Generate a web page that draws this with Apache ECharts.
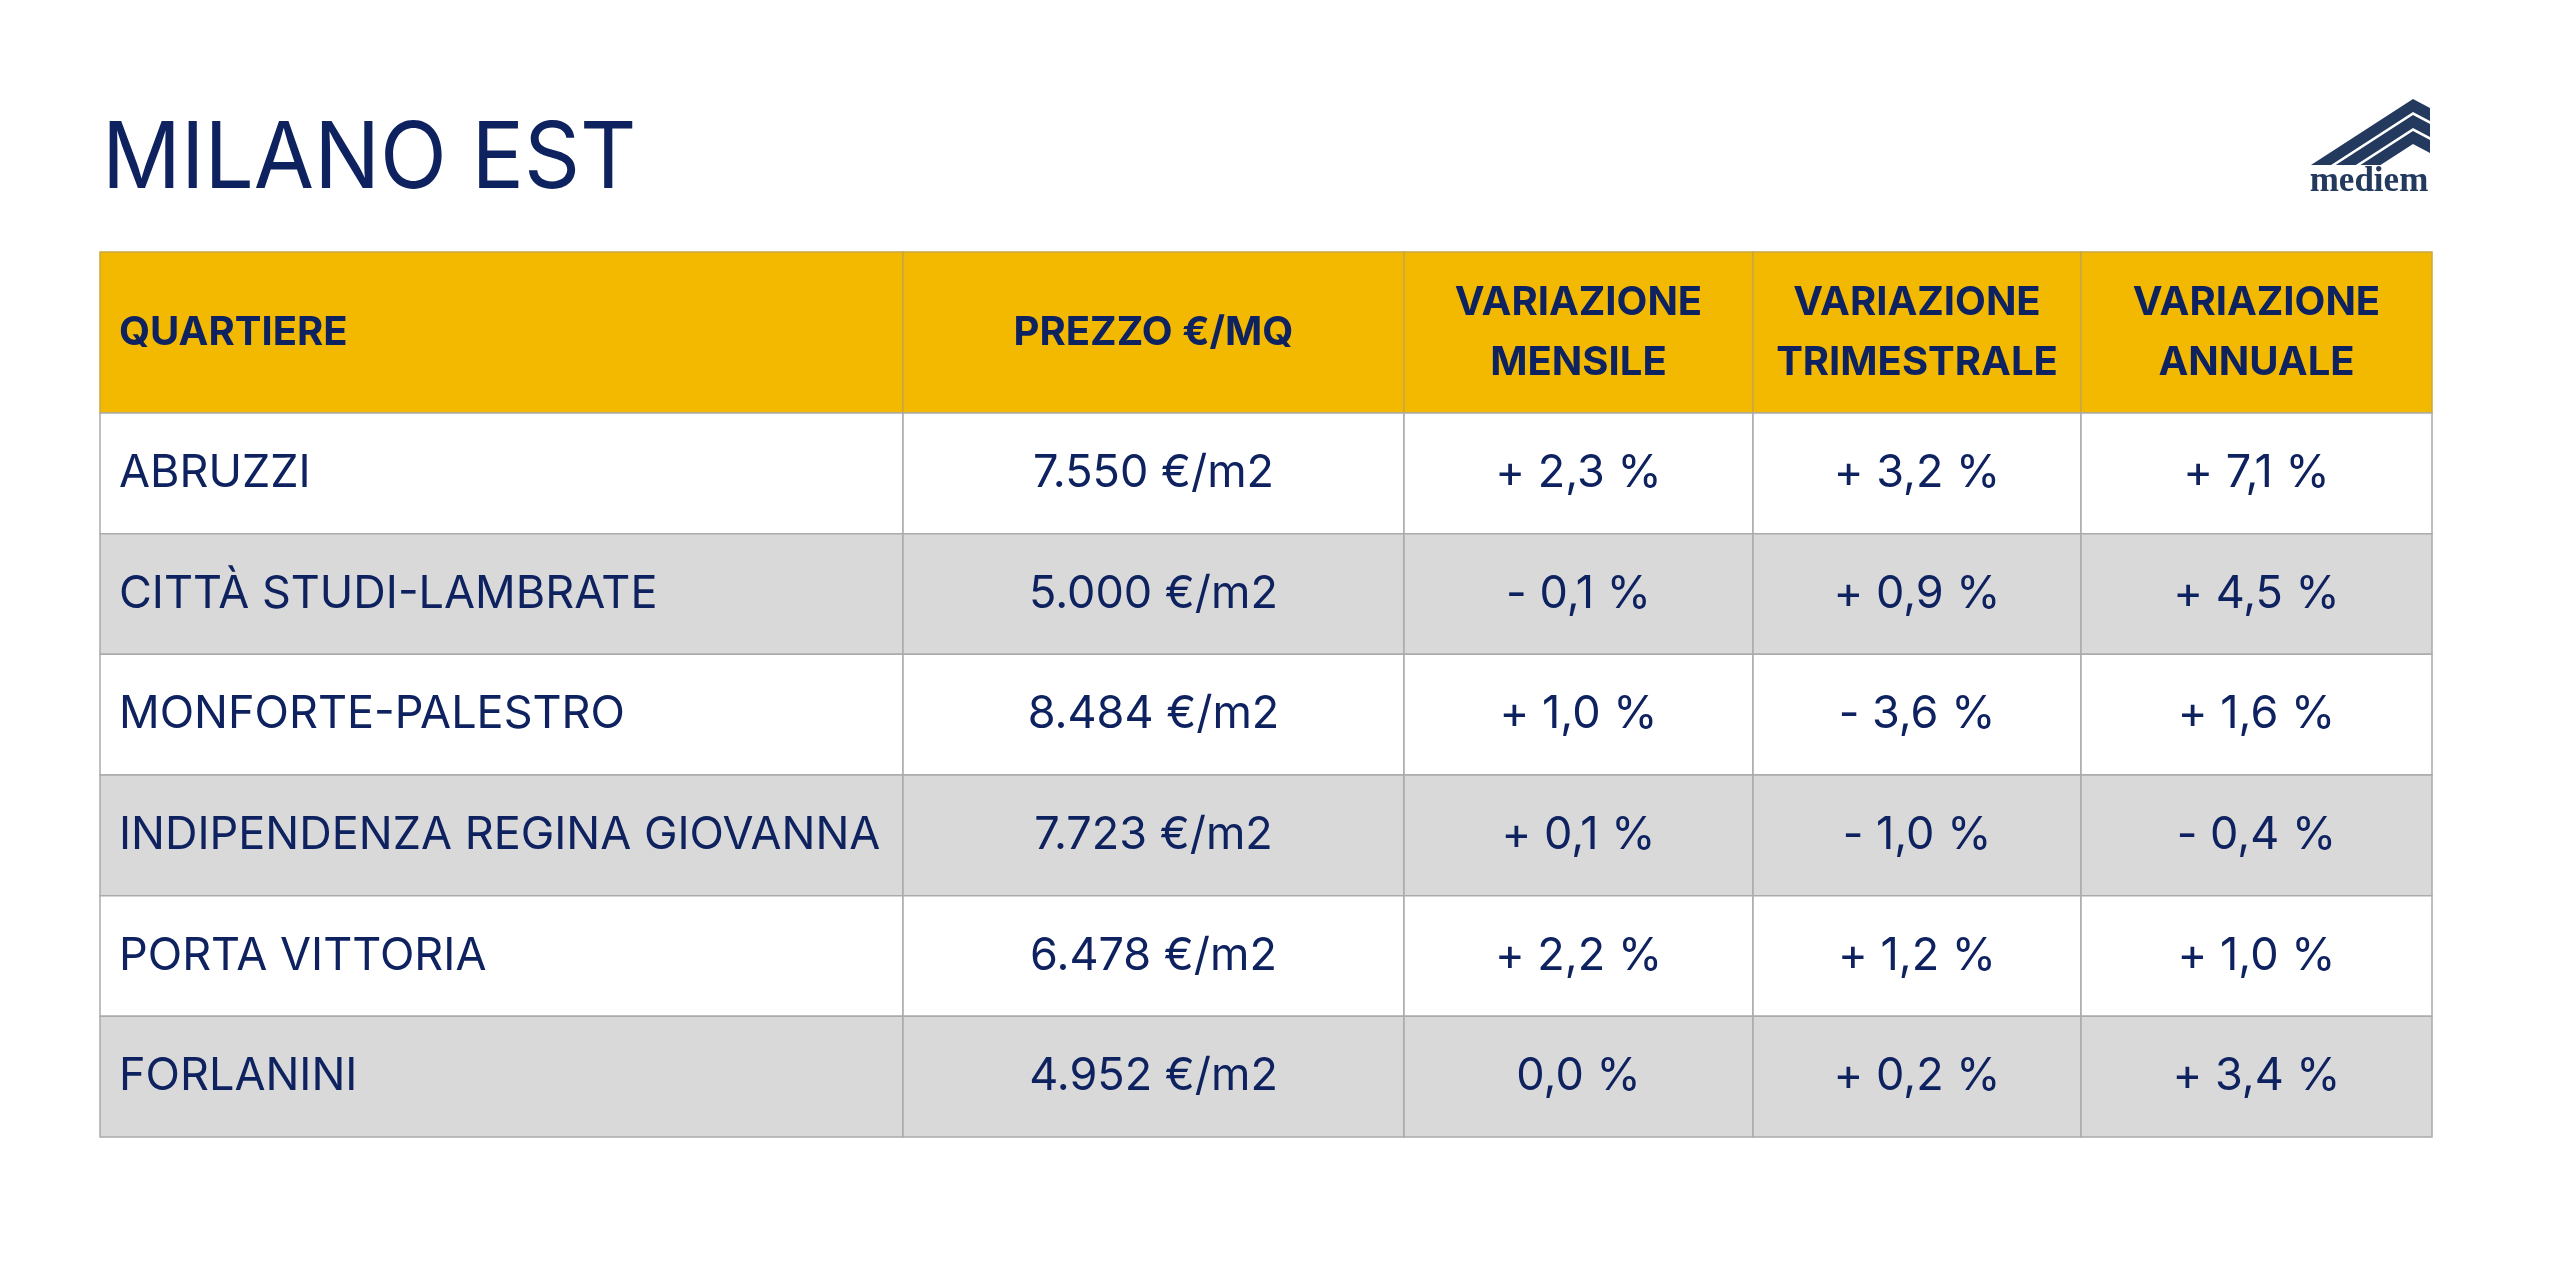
<!DOCTYPE html>
<html>
<head>
<meta charset="utf-8">
<title>Milano Est</title>
<script src="https://cdn.jsdelivr.net/npm/echarts@6/dist/echarts.min.js"></script>
<style>
  html, body { margin: 0; padding: 0; background: #fff; }
  #main { width: 2560px; height: 1280px; }
</style>
</head>
<body>
<div id="main"></div>
<script>
// dati della tabella
const titolo = "MILANO EST";
const intestazioni = ["QUARTIERE", "PREZZO €/MQ", "VARIAZIONE\nMENSILE", "VARIAZIONE\nTRIMESTRALE", "VARIAZIONE\nANNUALE"];
const quartieri = ["ABRUZZI", "CITTÀ STUDI-LAMBRATE", "MONFORTE-PALESTRO", "INDIPENDENZA REGINA GIOVANNA", "PORTA VITTORIA", "FORLANINI"];
const prezzi = [7550, 5000, 8484, 7723, 6478, 4952];
const varMensile = [2.3, -0.1, 1.0, 0.1, 2.2, 0.0];
const varTrimestrale = [3.2, 0.9, -3.6, -1.0, 1.2, 0.2];
const varAnnuale = [7.1, 4.5, 1.6, -0.4, 1.0, 3.4];

// layout: bordi delle colonne in px rispetto al bordo sinistro della tabella
const colEdges = [0, 803, 1304, 1653, 1981, 2332];
const NAVY = "#0f2260";
const FONT = "Inter, 'Noto Sans', sans-serif";

function fmtPrezzo(v) {
  return v.toLocaleString("de-DE") + " €/m2";
}
function fmtVar(v) {
  const s = Math.abs(v).toFixed(1).replace(".", ",");
  if (v > 0) return "+ " + s + " %";
  if (v < 0) return "- " + s + " %";
  return s + " %";
}

// celle del corpo: [colonna, riga, testo]
const bodyCells = [];
quartieri.forEach((q, r) => {
  bodyCells.push([0, r, q]);
  bodyCells.push([1, r, fmtPrezzo(prezzi[r])]);
  bodyCells.push([2, r, fmtVar(varMensile[r])]);
  bodyCells.push([3, r, fmtVar(varTrimestrale[r])]);
  bodyCells.push([4, r, fmtVar(varAnnuale[r])]);
});
const headCells = intestazioni.map((h, c) => [c, 0, h]);

function cellRenderer(isHeader) {
  return function (params, api) {
    const c = api.value(0);
    const r = api.value(1);
    const txt = isHeader ? headCells[params.dataIndex][2] : bodyCells[params.dataIndex][2];
    const p0 = api.coord([colEdges[c], r]);
    const p1 = api.coord([colEdges[c + 1], r]);
    const h = api.size([0, 1])[1];
    const x = p0[0], y = p0[1] - h / 2, w = p1[0] - p0[0];
    let fill = "#ffffff";
    if (isHeader) fill = "#f2b900";
    else if (r % 2 === 1) fill = "#d9d9d9";
    return {
      type: "group",
      children: [
        {
          type: "rect",
          shape: { x: x, y: y, width: w, height: h },
          style: { fill: fill, stroke: isHeader ? "#c9a640" : "#ababab", lineWidth: 1.5 },
        },
        {
          type: "text",
          style: {
            text: txt,
            x: c === 0 ? x + 19 : x + w / 2,
            y: p0[1],
            align: c === 0 ? "left" : "center",
            verticalAlign: "middle",
            fill: NAVY,
            fontFamily: FONT,
            fontSize: isHeader ? 40 : 45,
            fontWeight: isHeader ? 700 : 400,
            lineHeight: 60,
          },
        },
      ],
    };
  };
}

// logo mediem (decorazione)
function stripe(k) {
  const ox = 2298, oy = 90, o = k * 16, t = 13, slope = 0.647;
  const bx1 = 115 - (75 - 9 - o) / slope;
  const bx2 = 115 - (75 - 9 - o - t) / slope;
  return [
    [ox + bx1, oy + 75],
    [ox + 115, oy + 9 + o],
    [ox + 132, oy + 18 + o],
    [ox + 132, oy + 18 + o + t],
    [ox + 115, oy + 9 + o + t],
    [ox + bx2, oy + 75],
  ];
}

const myChart = echarts.init(document.getElementById("main"));
const option = {
  backgroundColor: "#ffffff",
  animation: false,
  grid: [
    { left: 100, top: 252, width: 2332, height: 161 },
    { left: 100, top: 413, width: 2332, height: 724 },
  ],
  xAxis: [
    { type: "value", gridIndex: 0, min: 0, max: 2332, show: false },
    { type: "value", gridIndex: 1, min: 0, max: 2332, show: false },
  ],
  yAxis: [
    { type: "category", gridIndex: 0, data: ["intestazione"], show: false },
    { type: "category", gridIndex: 1, data: quartieri, inverse: true, show: false },
  ],
  graphic: [
    {
      type: "text",
      x: 102,
      y: 114,
      scaleX: 0.95,
      style: {
        text: titolo,
        fill: NAVY,
        fontFamily: FONT,
        fontSize: 92,
        fontWeight: 400,
        verticalAlign: "top",
      },
    },
    ...[0, 1, 2].map((k) => ({
      type: "polygon",
      shape: { points: stripe(k) },
      style: { fill: "#233a5e" },
    })),
    {
      type: "text",
      x: 2369,
      y: 199,
      style: {
        text: "mediem",
        fill: "#233a5e",
        fontFamily: "'Liberation Serif', serif",
        fontSize: 35,
        fontWeight: 700,
        align: "center",
        verticalAlign: "bottom",
      },
    },
  ],
  series: [
    {
      type: "custom",
      xAxisIndex: 0,
      yAxisIndex: 0,
      renderItem: cellRenderer(true),
      data: headCells.map((d) => [d[0], d[1]]),
    },
    {
      type: "custom",
      xAxisIndex: 1,
      yAxisIndex: 1,
      renderItem: cellRenderer(false),
      data: bodyCells.map((d) => [d[0], d[1]]),
    },
  ],
};
myChart.setOption(option);
</script>
</body>
</html>
